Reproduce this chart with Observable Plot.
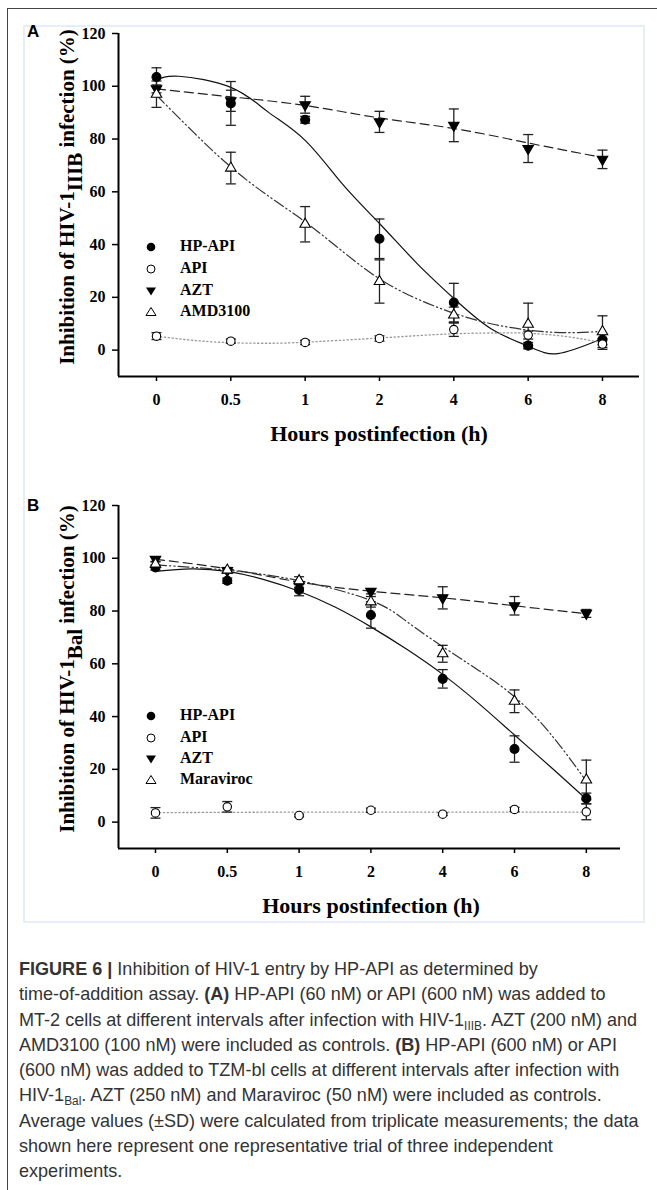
<!DOCTYPE html>
<html><head><meta charset="utf-8">
<script src="https://cdn.jsdelivr.net/npm/d3@7"></script>
<script src="https://cdn.jsdelivr.net/npm/@observablehq/plot@0.6"></script>
<style>
html,body{margin:0;padding:0;background:#fff;}
#page{position:relative;width:657px;height:1190px;overflow:hidden;background:#fff;}
.outer{position:absolute;left:7px;top:8px;width:700px;height:1250px;border-left:1px solid #444;border-top:1px solid #444;}
.inner{position:absolute;left:23px;top:25px;width:618px;height:894px;border:2px solid #e8eef8;}
.plotwrap{position:absolute;left:0;width:657px;height:460px;}
.plotwrap svg{position:absolute;left:0;top:0;overflow:visible;}
.plab{position:absolute;font:bold 17px "Liberation Sans",Arial,sans-serif;color:#000;}
.lg{position:absolute;left:0;height:20px;width:300px;}
.lg svg{position:absolute;left:145px;top:4px;}
.lg span{position:absolute;left:180px;top:0;line-height:20px;font:bold 16px "Liberation Serif","Times New Roman",serif;color:#000;white-space:nowrap;}
.cap{position:absolute;left:19px;top:956px;width:700px;font-family:"Liberation Sans",Arial,sans-serif;font-size:19px;line-height:25.3px;color:#333;white-space:nowrap;transform:scaleX(0.95);transform-origin:0 0;}
.cap sub{font-size:12.5px;vertical-align:baseline;position:relative;top:4px;line-height:0;}
</style></head>
<body><div id="page">
<div class="outer"></div>
<div class="inner"></div>
<div class="plab" style="left:27px;top:22px;">A</div>
<div class="plab" style="left:27px;top:496px;">B</div>
<div class="plotwrap" id="pa" style="top:0px;"></div>
<div class="plotwrap" id="pb" style="top:472px;"></div>
<div id="lga"></div>
<div id="lgb"></div>
<div class="cap"><b>FIGURE 6 |</b> Inhibition of HIV-1 entry by HP-API as determined by<br>time-of-addition assay. <b>(A)</b> HP-API (60 nM) or API (600 nM) was added to<br>MT-2 cells at different intervals after infection with HIV-1<sub>IIIB</sub>. AZT (200 nM) and<br>AMD3100 (100 nM) were included as controls. <b>(B)</b> HP-API (600 nM) or API<br>(600 nM) was added to TZM-bl cells at different intervals after infection with<br>HIV-1<sub>Bal</sub>. AZT (250 nM) and Maraviroc (50 nM) were included as controls.<br>Average values (±SD) were calculated from triplicate measurements; the data<br>shown here represent one representative trial of three independent<br>experiments.</div>
</div>
<script>
// ---------- data ----------
const xLabels = ["0", "0.5", "1", "2", "4", "6", "8"];
const xIndex = [0, 1, 2, 3, 4, 5, 6];
const yTicks = [0, 20, 40, 60, 80, 100, 120];
const yDomain = [-10, 120];

// Panel A (HIV-1 IIIB)
const aNames = ["HP-API", "API", "AZT", "AMD3100"];
const aHpApi = [103.5, 93.5, 87.3, 42.2, 18, 1.7, 4];
const aHpApiErr = [3.5, 8.3, 1.3, 7.5, 7.3, 1.2, 2];
const aApi = [5.3, 3.4, 2.9, 4.4, 7.8, 5.7, 2.3];
const aApiErr = [1.3, 0.8, 0.8, 1, 2.6, 1.5, 2];
const aAzt = [99, 94.5, 93, 86.5, 85.2, 76.4, 72.3];
const aAztErr = [1.5, 4, 3.2, 4, 6.2, 5.3, 3.5];
const aAmd = [97, 69, 47.7, 26, 13.3, 9.8, 7];
const aAmdErr = [5, 6, 6.7, 8.2, 3, 8, 6];
// fitted curves, panel A (x in category index units)
const aHpApiFitX = [0, 0.3, 1, 1.5, 2, 2.5, 3, 3.5, 4, 4.5, 5, 5.4, 6];
const aHpApiFitY = [102.3, 103.8, 99.6, 90.3, 79.5, 63, 48, 33, 19.6, 8.1, 1.5, -1.3, 4.4];
const aApiFitX = [0, 0.5, 1, 1.5, 2, 3, 4, 4.7, 5, 5.5, 6];
const aApiFitY = [5.3, 3.7, 2.8, 2.6, 3.0, 4.6, 6.2, 6.5, 6.4, 5.2, 2.7];
const aAztFitX = [0, 1, 2, 3, 4, 5, 6];
const aAztFitY = [99, 96, 92.7, 88, 84, 78.5, 73];
const aAmdFitX = [0, 0.5, 1, 1.5, 2, 2.5, 3, 3.5, 4, 4.5, 5, 5.5, 6];
const aAmdFitY = [96.6, 82.5, 69.4, 58.5, 48.6, 37.5, 27, 19.5, 14, 10, 7.6, 6.6, 7.1];

// Panel B (HIV-1 Bal)
const bNames = ["HP-API", "API", "AZT", "Maraviroc"];
const bHpApi = [96.5, 91.5, 88, 78.5, 54.3, 27.7, 9];
const bHpApiErr = [1, 1, 2.2, 5, 3.5, 5, 2];
const bApi = [3.5, 5.8, 2.5, 4.5, 3, 4.8, 3.9];
const bApiErr = [2, 2, 0.5, 0.8, 0.5, 0.8, 3];
const bAzt = [99.6, 95.3, 90, 87.5, 85, 82, 79.1];
const bAztErr = [1, 1, 1, 1, 4.2, 3.5, 1.5];
const bMvc = [97.8, 95.5, 91.5, 83.5, 63.8, 45.8, 16];
const bMvcErr = [1, 1, 1.5, 2, 3.2, 4.3, 7.5];
const bHpApiFitX = [0, 0.5, 1, 1.5, 2, 2.5, 3, 3.5, 4, 4.5, 5, 5.5, 6];
const bHpApiFitY = [95, 96, 95, 92, 87.5, 81.5, 74, 65.5, 56, 45, 33, 21, 8.7];
const bApiFitX = [0, 1, 2, 3, 4, 5, 6];
const bApiFitY = [3.6, 3.7, 3.8, 3.8, 3.8, 3.8, 3.8];
const bAztFitX = [0, 1, 2, 3, 4, 5, 6];
const bAztFitY = [99.6, 96, 91, 87.5, 85, 82, 79];
const bMvcFitX = [0, 1, 2, 3, 3.5, 4, 4.5, 5, 5.5, 6];
const bMvcFitY = [97.5, 95.5, 91.5, 84, 76, 66.5, 57.5, 47.5, 33.5, 15.5];

// ---------- symbols & styles ----------
const capSym = {draw(ctx, size) { const w = Math.sqrt(size / Math.PI); ctx.moveTo(-w, 0); ctx.lineTo(w, 0); }};
const triUp = {draw(ctx, size) { const r = Math.sqrt(size / Math.PI), s = 2.5 * r, h = s * 0.866;
  ctx.moveTo(0, -2 * h / 3); ctx.lineTo(s / 2, h / 3); ctx.lineTo(-s / 2, h / 3); ctx.closePath(); }};
const triDown = {draw(ctx, size) { const r = Math.sqrt(size / Math.PI), s = 2.5 * r, h = s * 0.866;
  ctx.moveTo(0, 2 * h / 3); ctx.lineTo(s / 2, -h / 3); ctx.lineTo(-s / 2, -h / 3); ctx.closePath(); }};

const styles = [
  {symbol: "circle", fill: "#000", r: 4.5, line: {stroke: "#111", strokeWidth: 1.2}},
  {symbol: "circle", fill: "#fff", r: 4.2, line: {stroke: "#999", strokeWidth: 1.3, strokeDasharray: "1.3,2.6"}},
  {symbol: triDown, fill: "#000", r: 4.2, line: {stroke: "#222", strokeWidth: 1.2, strokeDasharray: "9,5"}},
  {symbol: triUp, fill: "#fff", r: 4.2, line: {stroke: "#333", strokeWidth: 1.2, strokeDasharray: "11,3,1.3,3,1.3,3"}}
];

function makePanel(el, cfg) {
  const pts = [], fits = [];
  cfg.series.forEach((s, k) => {
    s.vals.forEach((v, i) => pts.push({k, x: xIndex[i], v, e: s.errs[i]}));
    s.fitX.forEach((x, i) => fits.push({k, x, y: s.fitY[i]}));
  });
  const marks = [
    Plot.ruleY([yDomain[0]], {stroke: "#000", strokeWidth: 2}),
    Plot.ruleX([cfg.xDomain[0]], {stroke: "#000", strokeWidth: 2}),
    Plot.axisY({ticks: yTicks, tickSize: 6, tickPadding: 7, strokeWidth: 1.5, label: null, tickFormat: d => String(d)}),
    Plot.axisX({ticks: xIndex, tickSize: 5, tickPadding: 12, strokeWidth: 1.5, label: null, tickFormat: i => xLabels[i]})
  ];
  styles.forEach((st, k) => {
    marks.push(Plot.line(fits.filter(d => d.k === k), {x: "x", y: "y", curve: "natural", ...st.line}));
  });
  marks.push(Plot.ruleX(pts, {x: "x", y1: d => d.v - d.e, y2: d => d.v + d.e, stroke: "#222", strokeWidth: 1.3}));
  marks.push(Plot.dot(pts, {x: "x", y: d => d.v + d.e, symbol: capSym, r: 5, stroke: "#222", fill: "none", strokeWidth: 1.3}));
  marks.push(Plot.dot(pts, {x: "x", y: d => d.v - d.e, symbol: capSym, r: 5, stroke: "#222", fill: "none", strokeWidth: 1.3}));
  styles.forEach((st, k) => {
    marks.push(Plot.dot(pts.filter(d => d.k === k), {x: "x", y: "v", symbol: st.symbol, r: st.r, fill: st.fill, stroke: "#000", strokeWidth: 1.1}));
  });
  const svg = Plot.plot({
    width: 657, height: 460,
    marginLeft: 118, marginRight: cfg.marginRight, marginTop: 33, marginBottom: 84,
    x: {type: "linear", domain: cfg.xDomain, label: null},
    y: {domain: yDomain, label: null},
    style: {fontFamily: "'Liberation Serif','Times New Roman',serif", fontSize: "16px", fontWeight: "bold", color: "#000", background: "transparent", overflow: "visible"},
    marks
  });
  const s = d3.select(svg);
  const t = s.append("text").attr("transform", `translate(74,197) rotate(-90)`).attr("text-anchor", "middle")
    .style("font", "bold 21px 'Liberation Serif','Times New Roman',serif").attr("fill", "#000");
  t.append("tspan").text("Inhibition of HIV-1");
  t.append("tspan").attr("dy", 8).text(cfg.sub);
  t.append("tspan").attr("dy", -8).text(" infection (%)");
  s.append("text").attr("x", cfg.titleX).attr("y", 441).attr("text-anchor", "middle")
    .style("font", "bold 22px 'Liberation Serif','Times New Roman',serif").attr("fill", "#000")
    .text("Hours postinfection (h)");
  el.appendChild(svg);
}

makePanel(document.getElementById("pa"), {
  xDomain: [-0.511, 6.498], marginRight: 18, sub: "IIIB", titleX: 379,
  series: [
    {vals: aHpApi, errs: aHpApiErr, fitX: aHpApiFitX, fitY: aHpApiFitY},
    {vals: aApi, errs: aApiErr, fitX: aApiFitX, fitY: aApiFitY},
    {vals: aAzt, errs: aAztErr, fitX: aAztFitX, fitY: aAztFitY},
    {vals: aAmd, errs: aAmdErr, fitX: aAmdFitX, fitY: aAmdFitY}
  ]
});
makePanel(document.getElementById("pb"), {
  xDomain: [-0.515, 6.476], marginRight: 37, sub: "Bal", titleX: 371,
  series: [
    {vals: bHpApi, errs: bHpApiErr, fitX: bHpApiFitX, fitY: bHpApiFitY},
    {vals: bApi, errs: bApiErr, fitX: bApiFitX, fitY: bApiFitY},
    {vals: bAzt, errs: bAztErr, fitX: bAztFitX, fitY: bAztFitY},
    {vals: bMvc, errs: bMvcErr, fitX: bMvcFitX, fitY: bMvcFitY}
  ]
});

// legends
const legendSvg = [
  '<circle cx="6" cy="6" r="4.3" fill="#000"/>',
  '<circle cx="6" cy="6" r="4" fill="#fff" stroke="#000" stroke-width="1"/>',
  '<path d="M1,2.5 L11,2.5 L6,10.5 Z" fill="#000"/>',
  '<path d="M6,1.5 L11,9.5 L1,9.5 Z" fill="#fff" stroke="#000" stroke-width="1"/>'
];
function makeLegend(el, names, rows) {
  names.forEach((n, i) => {
    const d = document.createElement("div");
    d.className = "lg";
    d.style.top = (rows[i] - 10) + "px";
    d.innerHTML = `<svg width="12" height="12">${legendSvg[i]}</svg><span>${n}</span>`;
    el.appendChild(d);
  });
}
makeLegend(document.getElementById("lga"), aNames, [247, 269, 291, 312]);
makeLegend(document.getElementById("lgb"), bNames, [716, 738, 759, 780]);
</script>
</body></html>
